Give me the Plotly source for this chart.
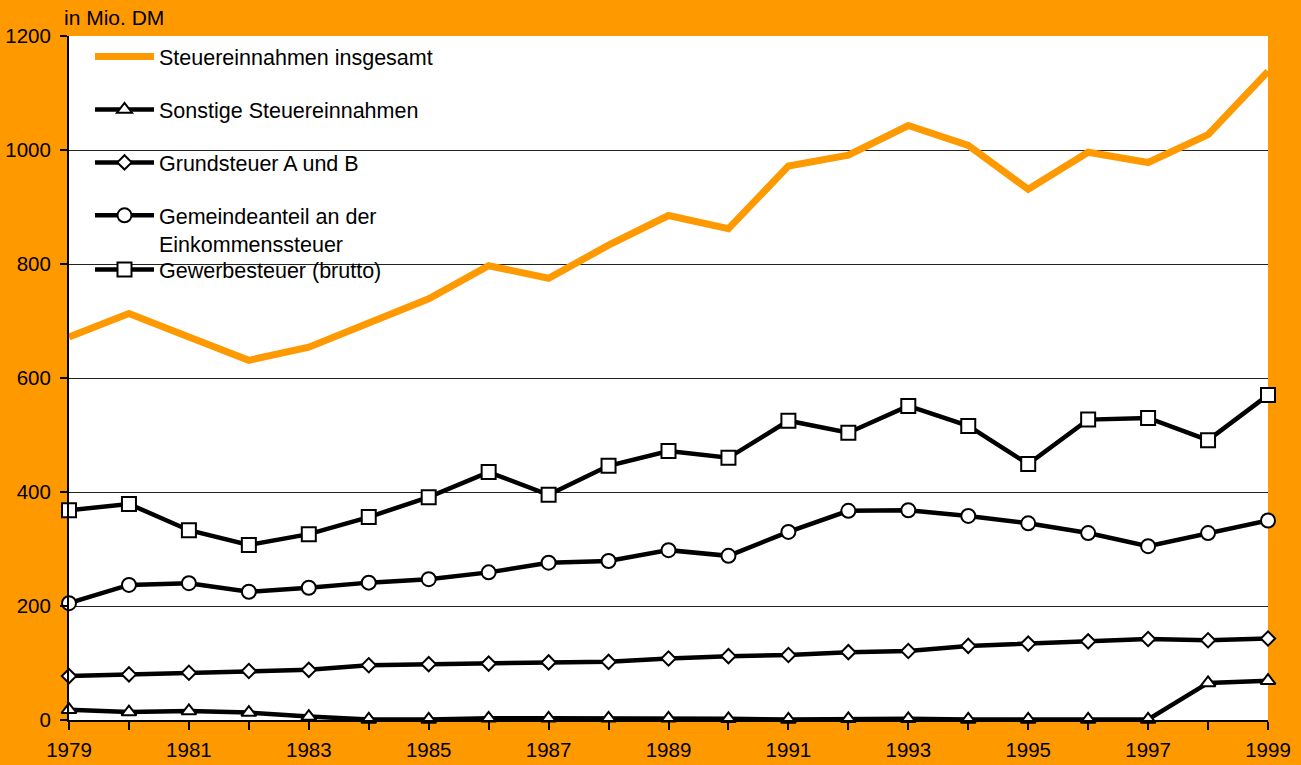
import plotly.graph_objects as go

years = list(range(1979, 2000))

gesamt = [672, 713, 672, 631, 654, 695, 739, 797, 775, 833, 885, 862, 972, 991,
          1043, 1008, 931, 996, 978, 1027, 1138]
sonstige = [18, 14, 16, 13, 6, 1, 1, 3, 3, 3, 3, 2, 1, 2, 2, 1, 1, 1, 1, 65, 69]
grundsteuer = [77, 80, 83, 86, 88, 96, 98, 99, 101, 102, 108, 112, 114, 119,
               121, 130, 134, 138, 142, 140, 143]
gemeindeanteil = [205, 237, 240, 225, 232, 241, 247, 259, 276, 279, 298, 288, 330,
                  367, 368, 358, 345, 328, 305, 328, 350]
gewerbesteuer = [368, 379, 333, 307, 326, 356, 391, 435, 395, 446, 472, 460, 525,
                 504, 551, 516, 449, 527, 530, 491, 570]

names = ["Steuereinnahmen insgesamt", "Sonstige Steuereinnahmen", "Grundsteuer A und B",
         "Gemeindeanteil an der<br>Einkommenssteuer", "Gewerbesteuer (brutto)"]

ORANGE = "#ff9900"
FONT = "Arial, Liberation Sans, sans-serif"

# plot area in pixels: x 69..1268, y 36..720
PLOT_W, PLOT_H = 1199, 684


def px_x(px):
    return (px - 69) / PLOT_W


def px_y(py):
    return (720 - py) / PLOT_H


fig = go.Figure()

fig.add_trace(go.Scatter(
    x=years, y=gesamt, name=names[0], mode="lines",
    line=dict(color=ORANGE, width=7), legendgroup="g1", cliponaxis=False))

black_series = [
    (sonstige, names[1], "triangle-up", 13, "g2", "legend"),
    (grundsteuer, names[2], "diamond", 11, "g3", "legend"),
    (gemeindeanteil, names[3], "circle", 14, "g4", "legend"),
    (gewerbesteuer, names[4], "square", 14, "g5", "legend2"),
]
for vals, nm, sym, sz, grp, lg in black_series:
    fig.add_trace(go.Scatter(
        x=years, y=vals, name=nm, mode="lines+markers",
        line=dict(color="black", width=4.5),
        marker=dict(symbol=sym, size=sz, color="white",
                    line=dict(color="black", width=2)),
        legendgroup=grp, legend=lg, cliponaxis=False))

tick_text = [str(y) if (y - 1979) % 2 == 0 else "" for y in years]

legend_common = dict(
    xanchor="left", yanchor="top",
    bgcolor="rgba(0,0,0,0)", borderwidth=0,
    font=dict(family=FONT, size=21.5, color="black"),
    traceorder="grouped", tracegroupgap=22, valign="top",
    itemwidth=59,
)

fig.update_layout(
    width=1301, height=765,
    margin=dict(l=69, r=33, t=36, b=45, pad=0),
    paper_bgcolor=ORANGE, plot_bgcolor="white",
    font=dict(family=FONT, size=20, color="black"),
    showlegend=True,
    legend=dict(x=px_x(90), y=px_y(36), **legend_common),
    legend2=dict(x=px_x(90), y=px_y(249), **legend_common),
    xaxis=dict(
        range=[1979, 1999], tickvals=years, ticktext=tick_text,
        ticks="outside", ticklen=8, tickwidth=2, tickcolor="black",
        showline=True, linecolor="black", linewidth=2,
        showgrid=False, zeroline=False, automargin=False,
        ticklabelstandoff=2,
        tickfont=dict(family=FONT, size=20.5, color="black"),
    ),
    xaxis2=dict(
        range=[1979, 1999], overlaying="x", anchor="y", side="bottom",
        tickvals=years, ticks="inside", ticklen=7, tickwidth=2, tickcolor="black",
        showticklabels=False, showgrid=False, showline=False, zeroline=False,
    ),
    yaxis=dict(
        range=[0, 1200], tickvals=[0, 200, 400, 600, 800, 1000, 1200],
        ticks="outside", ticklen=7, tickwidth=2, tickcolor="black",
        showline=True, linecolor="black", linewidth=2,
        showgrid=True, gridcolor="#222222", gridwidth=1, zeroline=False,
        automargin=False, ticklabelstandoff=5,
        tickfont=dict(family=FONT, size=20.5, color="black"),
    ),
    shapes=[dict(
        # white panel behind the legend entries, hiding the grid there
        type="rect", xref="paper", yref="paper", layer="between",
        x0=px_x(84), x1=px_x(445), y0=px_y(295), y1=px_y(38),
        fillcolor="white", line=dict(width=0))],
    annotations=[dict(
        text="in Mio. DM", xref="paper", yref="paper",
        x=px_x(62), y=px_y(18), xanchor="left", yanchor="middle",
        showarrow=False, font=dict(family=FONT, size=21, color="black"))],
)

fig.write_html("out.html")
